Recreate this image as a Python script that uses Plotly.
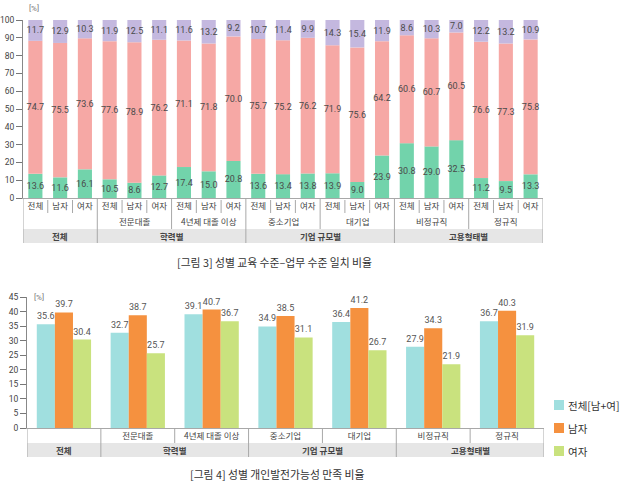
import plotly.graph_objects as go

# ---------------- data: figure 3 (stacked) ----------------
sex_labels = ["전체", "남자", "여자"]
fig3_sub_labels = ["전문대졸", "4년제 대졸 이상", "중소기업", "대기업", "비정규직", "정규직"]
fig3_major_labels = ["전체", "학력별", "기업 규모별", "고용형태별"]

seg_bottom = [13.6, 11.6, 16.1, 10.5, 8.6, 12.7, 17.4, 15.0, 20.8, 13.6, 13.4, 13.8,
              13.9, 9.0, 23.9, 30.8, 29.0, 32.5, 11.2, 9.5, 13.3]
seg_match = [74.7, 75.5, 73.6, 77.6, 78.9, 76.2, 71.1, 71.8, 70.0, 75.7, 75.2, 76.2,
             71.9, 75.6, 64.2, 60.6, 60.7, 60.5, 76.6, 77.3, 75.8]
seg_top = [11.7, 12.9, 10.3, 11.9, 12.5, 11.1, 11.6, 13.2, 9.2, 10.7, 11.4, 9.9,
           14.3, 15.4, 11.9, 8.6, 10.3, 7.0, 12.2, 13.2, 10.9]

# ---------------- data: figure 4 (grouped) ----------------
fig4_categories = ["전체", "전문대졸", "4년제 대졸 이상", "중소기업", "대기업", "비정규직", "정규직"]
fig4_major_labels = ["전체", "학력별", "기업 규모별", "고용형태별"]
legend_names = ["전체[남+여]", "남자", "여자"]
sat_total = [35.6, 32.7, 39.1, 34.9, 36.4, 27.9, 36.7]
sat_male = [39.7, 38.7, 40.7, 38.5, 41.2, 34.3, 40.3]
sat_female = [30.4, 25.7, 36.7, 31.1, 26.7, 21.9, 31.9]

# ---------------- styling ----------------
W, H = 620, 487
KR = "Noto Sans CJK KR"
NUM = "Liberation Sans Narrow, Roboto, Noto Sans CJK KR"
C_GREEN, C_PINK, C_PURPLE = "#72d3ab", "#f6a8a5", "#c4b8df"
C_CYAN, C_ORANGE, C_LIME = "#a0dfdf", "#f5913f", "#c9e27e"
LINE = "#a8a8a8"
BAND = "#e6e6e6"


def py(p):
    return (H - p) / H


def px(p):
    return p / W


def note(text, x, y, xref="paper", xanchor="center", size=8.5, color="#444", family=KR):
    return dict(text=text, x=x, y=y, xref=xref, yref="paper", xanchor=xanchor,
                yanchor="middle", showarrow=False,
                font=dict(size=size, color=color, family=family))


fig = go.Figure()

# ---- figure 3 bars ----
n3 = len(seg_bottom)
x3 = list(range(n3))
base_mid = seg_bottom
base_top = [a + b for a, b in zip(seg_bottom, seg_match)]
for vals, base, color in [(seg_bottom, None, C_GREEN),
                          (seg_match, base_mid, C_PINK),
                          (seg_top, base_top, C_PURPLE)]:
    fig.add_bar(
        x=x3, y=vals, base=base, width=0.57,
        marker=dict(color=color, line=dict(width=0)),
        text=[f"{v:.1f}" for v in vals], textposition="inside",
        insidetextanchor="middle", textangle=0, constraintext="none",
        textfont=dict(size=9, color="#4a4a4a", family=NUM),
        xaxis="x", yaxis="y", showlegend=False, hoverinfo="skip",
    )

# ---- figure 4 bars ----
n4 = len(fig4_categories)
x4 = list(range(n4))
bw = 0.245
series4 = [sat_total, sat_male, sat_female]
colors4 = [C_CYAN, C_ORANGE, C_LIME]
for k, (name, vals, color) in enumerate(zip(legend_names, series4, colors4)):
    fig.add_bar(
        x=x4, y=vals, width=bw, offset=-1.5 * bw + k * bw, name=name,
        marker=dict(color=color, line=dict(width=0)),
        text=[f"{v:.1f}" for v in vals], textposition="outside", cliponaxis=False,
        textfont=dict(size=9, color="#555", family=NUM),
        xaxis="x2", yaxis="y2", showlegend=False, hoverinfo="skip",
    )

shapes = []
annotations = []

# ---- figure 3 table ----
t3_top, t3_r1, t3_r2, t3_bot = 198, 213, 229, 243
shapes.append(dict(type="rect", xref="x", yref="paper", x0=-0.5, x1=n3 - 0.5,
                   y0=py(t3_bot), y1=py(t3_r2), fillcolor=BAND, line=dict(width=0), layer="below"))
major_sep3 = {2.5, 8.5, 14.5}
sub_sep3 = {5.5, 11.5, 17.5}
for k in range(n3 + 1):
    xv = k - 0.5
    if k == 0 or k == n3 or xv in major_sep3:
        y0, y1 = t3_bot, t3_top
    elif xv in sub_sep3:
        y0, y1 = t3_r2, t3_top
    else:
        y0, y1 = t3_r1, t3_top + 2
    shapes.append(dict(type="line", xref="x", yref="paper", x0=xv, x1=xv,
                       y0=py(y0), y1=py(y1), line=dict(color=LINE, width=1)))
for i, lab in enumerate(fig3_sub_labels):
    annotations.append(note(lab, 4 + 3 * i, py(221), xref="x"))
major_centers3 = [1, 5.5, 11.5, 17.5]
for xc, lab in zip(major_centers3, fig3_major_labels):
    annotations.append(note("<b>" + lab + "</b>", xc, py(236), xref="x"))
annotations.append(note("[%]", px(27), py(9), xanchor="left", size=8, color="#777", family=NUM))
annotations.append(note("[그림 3] 성별 교육 수준–업무 수준 일치 비율", px(274), py(262),
                        size=10.8, color="#333"))

# ---- figure 4 table ----
t4_top, t4_r1, t4_bot = 428, 443, 457
shapes.append(dict(type="rect", xref="x2", yref="paper", x0=-0.5, x1=n4 - 0.5,
                   y0=py(t4_bot), y1=py(t4_r1), fillcolor=BAND, line=dict(width=0), layer="below"))
major_sep4 = {0.5, 2.5, 4.5}
for k in range(n4 + 1):
    xv = k - 0.5
    if k == 0 or k == n4 or xv in major_sep4:
        y0 = t4_bot
    else:
        y0 = t4_r1
    shapes.append(dict(type="line", xref="x2", yref="paper", x0=xv, x1=xv,
                       y0=py(y0), y1=py(t4_top), line=dict(color=LINE, width=1)))
major_centers4 = [0, 1.5, 3.5, 5.5]
for xc, lab in zip(major_centers4, fig4_major_labels):
    annotations.append(note("<b>" + lab + "</b>", xc, py(450), xref="x2"))
annotations.append(note("[%]", px(32), py(297), xanchor="left", size=8, color="#777", family=NUM))
annotations.append(note("[그림 4] 성별 개인발전가능성 만족 비율", px(277), py(474),
                        size=10.8, color="#333"))

# ---- manual legend (right of figure 4) ----
leg_y = [405, 428, 451]
for name, color, yc in zip(legend_names, colors4, leg_y):
    shapes.append(dict(type="rect", xref="paper", yref="paper",
                       x0=px(554), x1=px(564), y0=py(yc + 5), y1=py(yc - 5),
                       fillcolor=color, line=dict(width=0)))
    annotations.append(note(name, px(566), py(yc), xanchor="left", size=10.5, color="#333"))

fig4_ticktext = [""] + fig4_categories[1:]

fig.update_layout(
    width=W, height=H, margin=dict(l=0, r=0, t=0, b=0, autoexpand=False),
    paper_bgcolor="white", plot_bgcolor="white",
    barmode="overlay",
    font=dict(family=KR, color="#333"),
    showlegend=False,
    xaxis=dict(domain=[px(23), px(543)], range=[-0.5, n3 - 0.5], anchor="y",
               tickmode="array", tickvals=x3, ticktext=sex_labels * (n3 // 3),
               ticks="", showline=True, linecolor=LINE, linewidth=1, showgrid=False,
               zeroline=False, tickfont=dict(size=8.5, color="#444", family=KR)),
    yaxis=dict(domain=[py(198), py(20)], range=[0, 100], anchor="x", dtick=10,
               ticks="outside", ticklen=6, tickcolor="#777", showline=True, linecolor="#888",
               showgrid=False, zeroline=False, tickfont=dict(size=8.5, color="#444", family=NUM)),
    xaxis2=dict(domain=[px(27), px(544)], range=[-0.5, n4 - 0.5], anchor="y2",
                tickmode="array", tickvals=x4, ticktext=fig4_ticktext,
                ticks="", showline=True, linecolor=LINE, linewidth=1, showgrid=False,
                zeroline=False, tickfont=dict(size=8.5, color="#444", family=KR)),
    yaxis2=dict(domain=[py(428), py(297)], range=[0, 45], anchor="x2", dtick=5,
                ticks="outside", ticklen=6, tickcolor="#777", showline=True, linecolor="#888",
                showgrid=False, zeroline=False, tickfont=dict(size=8.5, color="#444", family=NUM)),
    shapes=shapes, annotations=annotations,
)

fig.write_html("out.html", config={"displayModeBar": False},
               post_script="document.body.style.margin='0';")
